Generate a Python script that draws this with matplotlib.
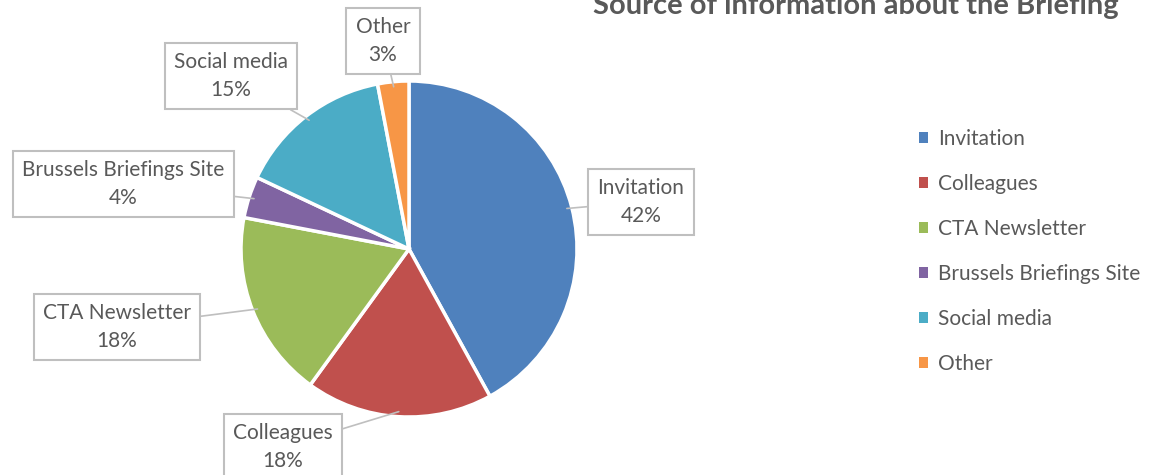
import matplotlib
matplotlib.use("Agg")
import matplotlib.pyplot as plt
from matplotlib.patches import Patch
import numpy as np

categories = ["Invitation", "Colleagues", "CTA Newsletter", "Brussels Briefings Site", "Social media", "Other"]
values = [42, 18, 18, 4, 15, 3]
colors = ["#4F81BD", "#C0504D", "#9BBB59", "#8064A2", "#4BACC6", "#F79646"]
title = "Source of information about the Briefing"

W, H = 1166, 475
plt.rcParams['font.family'] = ['Lato', 'DejaVu Sans']
TXT = "#595959"
FS = 15

fig = plt.figure(figsize=(W / 100, H / 100), dpi=100)
ax = fig.add_axes([0, 0, 1, 1])

cx, cy, r = 409, H - 249, 168
wedges, _ = ax.pie(values, colors=colors, startangle=90, counterclock=False,
                   center=(cx, cy), radius=r, frame=True,
                   wedgeprops=dict(edgecolor='white', linewidth=2.5))
ax.set_xlim(0, W)
ax.set_ylim(0, H)
ax.set_aspect('equal')
ax.axis('off')

# label box centers (pixel coords, top-left origin)
label_pos = [(641, 202), (283, 447), (117, 327), (123, 184), (231, 76), (383, 41)]
total = sum(values)
for w, cat, v, (lx, ly) in zip(wedges, categories, values, label_pos):
    ang = np.deg2rad((w.theta1 + w.theta2) / 2)
    px = cx + 0.97 * r * np.cos(ang)
    py = cy + 0.97 * r * np.sin(ang)
    ax.annotate(f"{cat}\n{round(100 * v / total)}%", xy=(px, py), xytext=(lx, H - ly),
                ha='center', va='center', fontsize=FS, color=TXT, linespacing=1.45,
                bbox=dict(boxstyle='square,pad=0.45', fc='white', ec='#BFBFBF', lw=1.5),
                arrowprops=dict(arrowstyle='-', color='#BFBFBF', lw=1.2, shrinkA=0, shrinkB=0))

fig.text(856 / W, 1 - 14 / H, title, ha='center', va='baseline', fontsize=21,
         fontweight='bold', color=TXT)

handles = [Patch(facecolor=c, edgecolor='none') for c in colors]
leg = ax.legend(handles, categories, loc='upper left', bbox_to_anchor=(919 / W, 1 - 129 / H),
                frameon=False, fontsize=FS, handlelength=0.45, handleheight=0.45,
                handletextpad=0.45, labelspacing=1.2, borderaxespad=0, borderpad=0)
for t in leg.get_texts():
    t.set_color(TXT)

fig.savefig("out.png", dpi=100, facecolor='white')
